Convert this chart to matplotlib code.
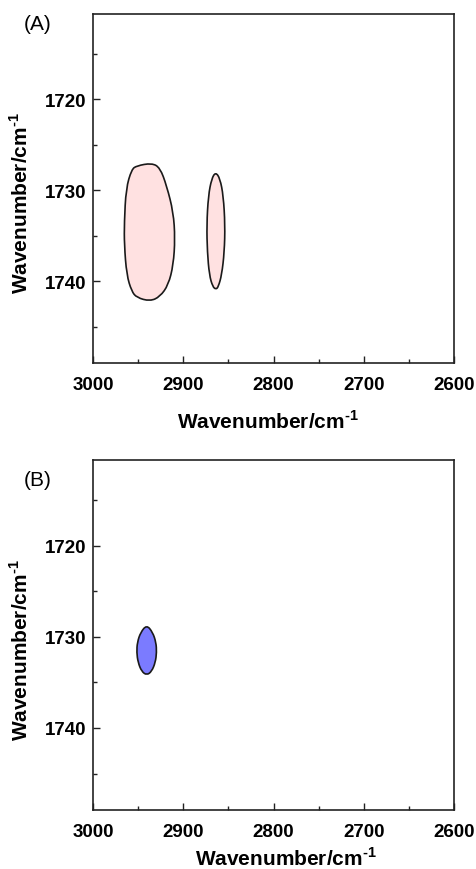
import matplotlib

matplotlib.use("Agg")
import matplotlib.pyplot as plt
from matplotlib.patches import PathPatch
from matplotlib.path import Path
from matplotlib.ticker import MultipleLocator


plt.rcParams["font.family"] = ["Liberation Sans", "DejaVu Sans"]
plt.rcParams["mathtext.fontset"] = "custom"
plt.rcParams["mathtext.rm"] = "Liberation Sans:bold"
plt.rcParams["mathtext.bf"] = "Liberation Sans:bold"

# contour outlines of the cross peaks (x: 2D axis 1, y: 2D axis 2), cm-1
peak_a1_x = [2935.0, 2925.8, 2918.4, 2911.0, 2909.1, 2911.0, 2916.5, 2925.8, 2936.8,
             2951.6, 2957.2, 2962.7, 2965.3, 2965.3, 2963.4, 2957.2, 2951.6]
peak_a1_y = [1727.0, 1727.5, 1729.5, 1732.4, 1735.3, 1738.2, 1740.4, 1741.7, 1742.2,
             1741.8, 1741.1, 1739.3, 1736.0, 1733.5, 1729.8, 1727.7, 1727.3]

peak_a2_x = [2864.1, 2859.3, 2855.6, 2853.7, 2854.5, 2857.4, 2861.1, 2863.7,
             2867.4, 2871.1, 2873.3, 2874.0, 2872.2, 2868.5]
peak_a2_y = [1728.0, 1728.7, 1730.6, 1733.8, 1736.8, 1739.3, 1740.6, 1740.9,
             1740.6, 1739.3, 1736.8, 1733.8, 1730.6, 1728.7]

peak_b1_x = [2940.5, 2933.9, 2930.2, 2929.5, 2930.9, 2935.0, 2940.5,
             2946.1, 2950.1, 2951.6, 2950.9, 2947.2]
peak_b1_y = [1728.7, 1729.5, 1730.6, 1731.7, 1732.8, 1733.8, 1734.2,
             1733.8, 1732.8, 1731.7, 1730.6, 1729.5]

x_ticks = [3000, 2900, 2800, 2700, 2600]
y_ticks = [1720, 1730, 1740]

PINK = "#FFE1E1"
BLUE = "#7B7BFF"
LABEL = r"Wavenumber/cm$^{\text{-}1}$"


def style_axes(ax, xlabel_pos, ylabel_pos):
    ax.set_xlim(3000, 2600)
    ax.set_ylim(1749.0, 1710.6)
    ax.set_xticks(x_ticks)
    ax.set_yticks(y_ticks)
    ax.xaxis.set_minor_locator(MultipleLocator(50))
    ax.yaxis.set_minor_locator(MultipleLocator(5))
    ax.tick_params(which="both", direction="in", width=1.0, color="#222222")
    ax.tick_params(which="major", length=5)
    ax.tick_params(which="minor", length=3)
    ax.tick_params(axis="x", pad=9)
    ax.tick_params(axis="y", pad=5)
    for lab in ax.get_xticklabels() + ax.get_yticklabels():
        lab.set_fontsize(13.5)
        lab.set_fontweight("bold")
    for spine in ax.spines.values():
        spine.set_linewidth(1.2)
        spine.set_color("#222222")
    ax.set_xlabel(LABEL, fontsize=15, fontweight="bold")
    ax.set_ylabel(LABEL, fontsize=15, fontweight="bold")
    ax.xaxis.set_label_coords(*xlabel_pos)
    ax.yaxis.set_label_coords(*ylabel_pos)


def add_peak(ax, xs, ys, color):
    # closed quadratic spline through edge midpoints, outline points as controls
    pts = list(zip(xs, ys))
    n = len(pts)
    mids = [((pts[i][0] + pts[(i + 1) % n][0]) / 2, (pts[i][1] + pts[(i + 1) % n][1]) / 2)
            for i in range(n)]
    verts = [mids[-1]]
    codes = [Path.MOVETO]
    for i in range(n):
        verts += [pts[i], mids[i]]
        codes += [Path.CURVE3, Path.CURVE3]
    verts.append(mids[-1])
    codes.append(Path.CLOSEPOLY)
    patch = PathPatch(Path(verts, codes), facecolor=color, edgecolor="#1a1a1a",
                      linewidth=1.2)
    ax.add_patch(patch)


fig = plt.figure(figsize=(4.76, 8.70), dpi=100)
ax_a = fig.add_axes([0.1954, 0.5816, 0.7584, 0.4011])
ax_b = fig.add_axes([0.1954, 0.0678, 0.7584, 0.4023])

add_peak(ax_a, peak_a1_x, peak_a1_y, PINK)
add_peak(ax_a, peak_a2_x, peak_a2_y, PINK)
add_peak(ax_b, peak_b1_x, peak_b1_y, BLUE)

style_axes(ax_a, (0.485, -0.132), (-0.169, 0.461))
style_axes(ax_b, (0.535, -0.104), (-0.169, 0.460))

fig.text(38 / 476, 1 - 25 / 870, "(A)", fontsize=15, ha="center", va="center")
fig.text(38 / 476, 1 - 481 / 870, "(B)", fontsize=15, ha="center", va="center")

fig.savefig("out.png", dpi=100)
plt.close(fig)
